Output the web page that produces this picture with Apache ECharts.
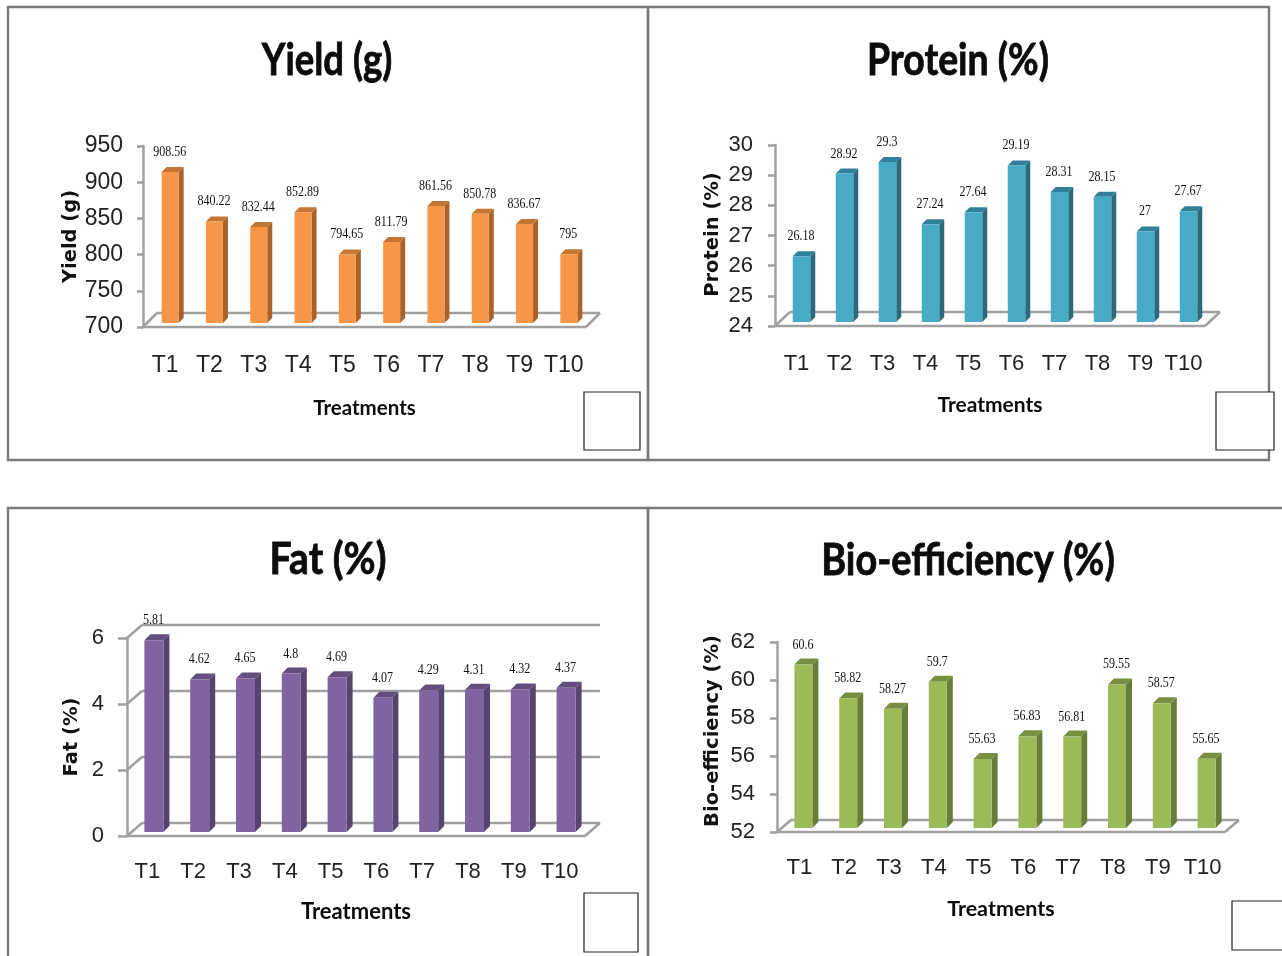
<!DOCTYPE html>
<html><head><meta charset="utf-8">
<style>html,body{margin:0;padding:0;background:#fff}#c{width:1282px;height:956px}</style>
<script src="https://cdn.jsdelivr.net/npm/echarts@6/dist/echarts.min.js"></script>
</head><body><div id="c"></div>
<script>
const categories = ['T1','T2','T3','T4','T5','T6','T7','T8','T9','T10'];
const yieldValues = [908.56,840.22,832.44,852.89,794.65,811.79,861.56,850.78,836.67,795];
const proteinValues = [26.18,28.92,29.3,27.24,27.64,29.19,28.31,28.15,27,27.67];
const fatValues = [5.81,4.62,4.65,4.8,4.69,4.07,4.29,4.31,4.32,4.37];
const bioValues = [60.6,58.82,58.27,59.7,55.63,56.83,56.81,59.55,58.57,55.65];

const panels = [
 {title:'Yield (g)',tx:327,ty:61,ts:0.83,yname:'Yield (g)',values:yieldValues,min:700,max:950,step:50,
  l:143,t:146,w:443,h:181,dx:14,dy:14,shift:5,lift:4,bw:17,d:5,tick:6,margin:20,fs:23,pad:0,namePad:0,xFs:20.5,
  front:'#F79646',side:'#A8622B',top:'#C57634',walls:false,nameGap:60,xGap:71,xMargin:27},
 {title:'Protein (%)',tx:958,ty:61,ts:0.85,yname:'Protein (%)',values:proteinValues,min:24,max:30,step:1,
  l:775,t:145,w:430,h:181,dx:15,dy:14,shift:5,lift:4,bw:17.5,d:5,tick:7,margin:22,fs:22,pad:0,namePad:2,xFs:21,
  front:'#47ABC6',side:'#2A6A7C',top:'#31809A',walls:false,nameGap:52,xGap:69,xMargin:27},
 {title:'Fat (%)',tx:328,ty:560,ts:0.89,yname:'Fat (%)',values:fatValues,min:0,max:6,step:2,
  l:127,t:638,w:458,h:198,dx:15,dy:13,shift:4,lift:4,bw:19,d:6,tick:9,margin:23,fs:22,pad:5,namePad:0,xFs:22,
  front:'#8064A2',side:'#574370',top:'#644E80',walls:true,nameGap:45,xGap:65,xMargin:25},
 {title:'Bio-efficiency (%)',tx:968,ty:561,ts:0.86,yname:'Bio-efficiency (%)',values:bioValues,min:52,max:62,step:2,
  l:777,t:642,w:448,h:190,dx:14,dy:12,shift:4,lift:4,bw:18,d:6,tick:7,margin:22,fs:22,pad:0,namePad:12,xFs:21.5,
  front:'#9BBB59',side:'#677D38',top:'#76903F',walls:false,nameGap:54,xGap:66,xMargin:25}
];
const frameLines = [
 [8,7,640,453],[648,7,621,453],[8,508,640,460],[648,508,640,460]
];
const emptyBoxes = [[584,392,56,58],[1216,392,58,58],[584,893,54,59],[1232,901,60,49]];

const GREY = '#A0A0A0';
const SANS = '"Liberation Sans",Arial,sans-serif';
function poly(points, fill){ return {type:'polygon',shape:{points},style:{fill,stroke:null}}; }
function line(a,b,c){ return {type:'line',shape:{x1:a[0],y1:a[1],x2:b[0],y2:b[1]},style:{stroke:c||GREY,lineWidth:2.5,fill:null}}; }

const option = {animation:false,backgroundColor:'#fff',grid:[],xAxis:[],yAxis:[],series:[],
 graphic:[
  ...frameLines.map(r=>({type:'rect',shape:{x:r[0],y:r[1],width:r[2],height:r[3]},style:{fill:null,stroke:'#7A7A7A',lineWidth:2.4},z:50})),
  ...emptyBoxes.map(r=>({type:'rect',shape:{x:r[0],y:r[1],width:r[2],height:r[3]},style:{fill:'#fff',stroke:'#222',lineWidth:1.2},z:51})),
  ...panels.map(p=>({type:'text',x:p.tx,y:p.ty,scaleX:p.ts,z:52,
    style:{text:p.title,x:0,y:0,align:'center',verticalAlign:'middle',font:'bold 44px Lato,sans-serif',
     fill:'#0c0c0c',stroke:'#0c0c0c',lineWidth:0.8}}))
 ]};

panels.forEach((p,k)=>{
 option.grid.push({left:p.l,top:p.t,width:p.w,height:p.h});
 option.xAxis.push({type:'category',gridIndex:k,data:categories,
  name:'Treatments',nameLocation:'middle',nameGap:p.xGap,
  nameTextStyle:{fontFamily:'Lato,sans-serif',fontWeight:'bold',fontSize:p.xFs,color:'#0c0c0c'},
  axisLine:{show:false},axisTick:{show:false},
  axisLabel:{fontFamily:SANS,fontSize:p.fs,color:'#222',margin:p.xMargin,interval:0,padding:[0,p.pad,0,0]}});
 option.yAxis.push({type:'value',gridIndex:k,min:p.min,max:p.max,interval:p.step,
  name:p.yname,nameLocation:'middle',nameGap:p.nameGap,nameRotate:90,
  nameTextStyle:{fontFamily:'"DejaVu Sans",sans-serif',fontWeight:'bold',fontSize:19.5,color:'#111',padding:[0,0,0,p.namePad]},
  axisLine:{show:true,lineStyle:{color:GREY,width:2.5}},
  axisTick:{show:true,length:p.tick,lineStyle:{color:GREY,width:2.5}},
  axisLabel:{fontFamily:SANS,fontSize:p.fs,color:'#222',margin:p.margin,padding:[6,0,0,0]},
  splitLine:{show:false}});
 // floor and walls
 option.series.push({type:'custom',xAxisIndex:k,yAxisIndex:k,coordinateSystem:'cartesian2d',silent:true,z:2,
  data:[[0,p.min]],encode:{x:0,y:1},
  renderItem:(params,api)=>{
   const band=api.size([1,0])[0];
   const a=api.coord([0,p.min]), lx=a[0]-band/2, y=a[1];
   const rx=lx+band*categories.length;
   const ch=[];
   ch.push(line([rx,y],[rx+p.dx,y-p.dy]));
   ch.push(line([lx,y],[rx,y]));
   const ticks=[];
   for(let v=p.min;v<=p.max+1e-9;v+=p.step) ticks.push(v);
   ticks.forEach(v=>{
    if(!p.walls && v!==p.min) return;
    const yy=api.coord([0,v])[1];
    ch.push(line([lx,yy],[lx+p.dx,yy-p.dy]));
    ch.push(line([lx+p.dx,yy-p.dy],[rx+p.dx,yy-p.dy]));
   });
   return {type:'group',children:ch};
  }});
 // 3D bars with labels
 option.series.push({type:'custom',xAxisIndex:k,yAxisIndex:k,coordinateSystem:'cartesian2d',z:3,
  data:p.values.map((v,i)=>[i,v]),encode:{x:0,y:1},
  renderItem:(params,api)=>{
   const v=api.value(1), c=api.coord([api.value(0),v]), b=api.coord([api.value(0),p.min]);
   const x0=c[0]+p.shift-p.bw/2, x1=x0+p.bw, yT=c[1]-p.lift, yB=b[1]-p.lift, d=p.d;
   return {type:'group',children:[
    poly([[x1,yT],[x1+d,yT-d],[x1+d,yB-d],[x1,yB]],p.side),
    poly([[x0,yT],[x0+d,yT-d],[x1+d,yT-d],[x1,yT]],p.top),
    {type:'rect',shape:{x:x0,y:yT,width:p.bw,height:yB-yT},style:{fill:p.front,stroke:null}},
    {type:'text',x:c[0]+p.shift-0.5,y:yT-20,scaleX:0.8,
     style:{text:String(v),x:0,y:0,align:'center',verticalAlign:'middle',
      font:'15px "Liberation Serif","Times New Roman",serif',fill:'#111'}}
   ]};
  }});
});
const chart=echarts.init(document.getElementById('c'),null,{width:1282,height:956});
chart.setOption(option);
</script></body></html>
